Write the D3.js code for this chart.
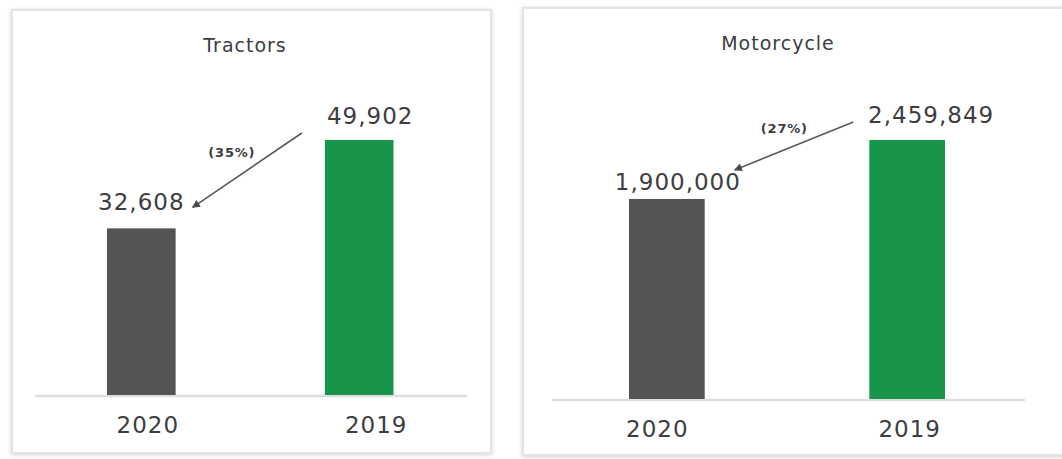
<!DOCTYPE html>
<html>
<head>
<meta charset="utf-8">
<script src="https://cdn.jsdelivr.net/npm/d3@7"></script>
<style>
  html, body { margin: 0; padding: 0; background: #ffffff; }
  svg { display: block; }
  text { font-family: "DejaVu Sans", "Open Sans", sans-serif; fill: #3d3d3f; }
</style>
</head>
<body>
<svg id="chart" width="1062" height="459"></svg>
<script>
// ---- data ----
const years = ["2020", "2019"];
const tractorUnits = [32608, 49902];
const motorcycleUnits = [1900000, 2459849];
const panelTitles = ["Tractors", "Motorcycle"];
const changeLabels = ["(35%)", "(27%)"];
const barColors = ["#545457", "#18954a"];

// ---- layout for each panel ----
const panels = [
  {
    title: panelTitles[0], values: tractorUnits, change: changeLabels[0],
    box: [12, 10, 479, 443],
    titleX: 245, titleY: 52,
    bandRange: [107, 393.5], baseY: 395, topY: 140,
    axisRange: [35, 467],
    valueDx: [0, 11], valueDy: [-18, -16],
    yearDx: [6.5, 17],
    arrowFrom: [-23, -7], arrowTo: [17, -21],
    changePos: [-93, 17]
  },
  {
    title: panelTitles[1], values: motorcycleUnits, change: changeLabels[1],
    box: [523, 8, 545, 447],
    titleX: 778, titleY: 50,
    bandRange: [629, 945], baseY: 399, topY: 140,
    axisRange: [552, 1025],
    valueDx: [11, 24], valueDy: [-9, -17],
    yearDx: [-9.5, 2.5],
    arrowFrom: [-16, -18], arrowTo: [30, -29],
    changePos: [-85, -7]
  }
];

const svg = d3.select("#chart");

// soft shadow around each card
const defs = svg.append("defs");
const shadow = defs.append("filter").attr("id", "cardShadow")
  .attr("x", "-5%").attr("y", "-5%").attr("width", "110%").attr("height", "110%");
shadow.append("feGaussianBlur").attr("in", "SourceAlpha").attr("stdDeviation", 2).attr("result", "b");
shadow.append("feOffset").attr("in", "b").attr("dx", 0).attr("dy", 1).attr("result", "o");
shadow.append("feComponentTransfer").attr("in", "o").attr("result", "s")
  .append("feFuncA").attr("type", "linear").attr("slope", 0.18);
const merge = shadow.append("feMerge");
merge.append("feMergeNode").attr("in", "s");
merge.append("feMergeNode").attr("in", "SourceGraphic");

defs.append("marker")
  .attr("id", "arrowHead")
  .attr("viewBox", "0 0 10 10")
  .attr("refX", 9).attr("refY", 5)
  .attr("markerWidth", 10).attr("markerHeight", 8)
  .attr("markerUnits", "userSpaceOnUse")
  .attr("orient", "auto")
  .append("path")
  .attr("d", "M0,0 L10,5 L0,10 Z")
  .attr("fill", "#4a4a4c");

const fmt = d3.format(",");

panels.forEach(p => {
  const g = svg.append("g");
  const [bx, by, bw, bh] = p.box;

  g.append("rect")
    .attr("x", bx).attr("y", by).attr("width", bw).attr("height", bh)
    .attr("fill", "#ffffff")
    .attr("stroke", "#e4e4e4").attr("stroke-width", 2)
    .attr("filter", "url(#cardShadow)");

  g.append("text")
    .attr("x", p.titleX).attr("y", p.titleY)
    .attr("text-anchor", "middle")
    .style("font-size", "19px").style("letter-spacing", "1px")
    .text(p.title);

  const x = d3.scaleBand().domain(years).range(p.bandRange).paddingInner(0.685).paddingOuter(0);
  const y = d3.scaleLinear().domain([0, d3.max(p.values)]).range([p.baseY, p.topY]);

  // baseline
  g.append("line")
    .attr("x1", p.axisRange[0]).attr("x2", p.axisRange[1])
    .attr("y1", y(0) + 1).attr("y2", y(0) + 1)
    .attr("stroke", "#dedede").attr("stroke-width", 2.5);

  // bars
  g.selectAll("rect.bar").data(years).join("rect")
    .attr("class", "bar")
    .attr("x", d => x(d))
    .attr("y", (d, i) => y(p.values[i]))
    .attr("width", x.bandwidth())
    .attr("height", (d, i) => y(0) - y(p.values[i]))
    .attr("fill", (d, i) => barColors[i]);

  // value labels
  g.selectAll("text.val").data(years).join("text")
    .attr("class", "val")
    .attr("x", (d, i) => x(d) + x.bandwidth() / 2 + p.valueDx[i])
    .attr("y", (d, i) => y(p.values[i]) + p.valueDy[i])
    .attr("text-anchor", "middle")
    .style("font-size", "23px").style("letter-spacing", "1px")
    .text((d, i) => fmt(p.values[i]));

  // year labels
  g.selectAll("text.year").data(years).join("text")
    .attr("class", "year")
    .attr("x", (d, i) => x(d) + x.bandwidth() / 2 + p.yearDx[i])
    .attr("y", y(0) + 38)
    .attr("text-anchor", "middle")
    .style("font-size", "23px").style("letter-spacing", "1px")
    .text(d => d);

  // change arrow from 2019 towards 2020
  const x19 = x(years[1]), y19 = y(p.values[1]);
  const x20 = x(years[0]) + x.bandwidth(), y20 = y(p.values[0]);
  g.append("line")
    .attr("x1", x19 + p.arrowFrom[0]).attr("y1", y19 + p.arrowFrom[1])
    .attr("x2", x20 + p.arrowTo[0]).attr("y2", y20 + p.arrowTo[1])
    .attr("stroke", "#5a5a5c").attr("stroke-width", 1.6)
    .attr("marker-end", "url(#arrowHead)");

  g.append("text")
    .attr("x", x19 + p.changePos[0]).attr("y", y19 + p.changePos[1])
    .attr("text-anchor", "middle")
    .style("font-size", "13px").style("font-weight", "bold").style("letter-spacing", "0.8px")
    .text(p.change);
});
</script>
</body>
</html>
